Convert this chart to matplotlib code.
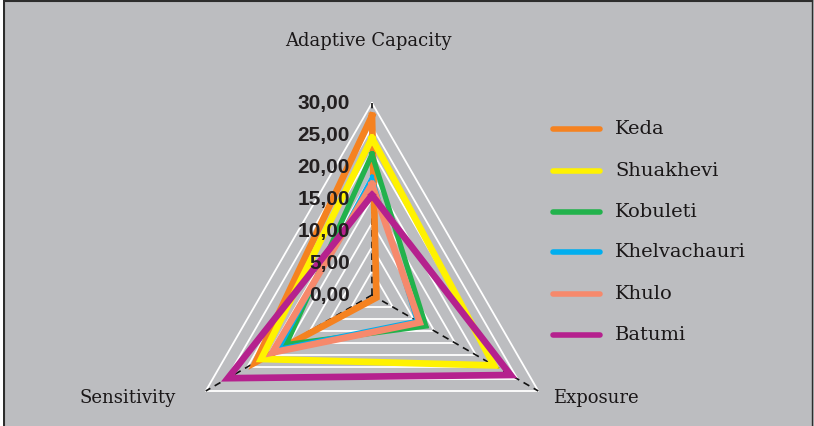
import numpy as np
import matplotlib
matplotlib.use("Agg")
import matplotlib.pyplot as plt
from matplotlib.lines import Line2D

# Vulnerability components (clockwise from top)
categories = ["Adaptive Capacity", "Exposure", "Sensitivity"]
districts = ["Keda", "Shuakhevi", "Kobuleti", "Khelvachauri", "Khulo", "Batumi"]
keda = [28.0, 0.8, 21.0]
shuakhevi = [24.5, 22.0, 20.0]
kobuleti = [22.0, 9.7, 15.5]
khelvachauri = [18.5, 8.0, 16.7]
khulo = [17.3, 8.6, 18.0]
batumi = [15.6, 25.0, 26.0]
tick_values = [0, 5, 10, 15, 20, 25, 30]
tick_labels = ["0,00", "5,00", "10,00", "15,00", "20,00", "25,00", "30,00"]

series = [keda, shuakhevi, kobuleti, khelvachauri, khulo, batumi]
colors = ["#f58220", "#fff200", "#22b24c", "#00aeef", "#f6896c", "#b5218e"]
widths = [4.8, 4.8, 3.8, 2.6, 4.8, 4.8]

W, H = 814, 426
BG = "#bcbdc0"
fig = plt.figure(figsize=(W / 100, H / 100), dpi=100)
fig.patch.set_facecolor(BG)

# polar axes: centre at (372, 295) px, radius 192 px
cx, cy, R = 372, 295, 192
ax = fig.add_axes([(cx - R) / W, (H - cy - R) / H, 2 * R / W, 2 * R / H],
                  projection="polar")
ax.set_theta_offset(np.pi / 2)
ax.set_theta_direction(-1)
ax.set_ylim(0, 30)
ax.patch.set_visible(False)
ax.spines["polar"].set_visible(False)
ax.grid(False)
ax.set_xticks([])
ax.set_yticks([])

angles = np.linspace(0, 2 * np.pi, len(categories), endpoint=False)
closed = np.append(angles, angles[0])

# triangular grid
for lvl in np.linspace(30 / 8, 30, 8):
    ax.plot(closed, [lvl] * (len(categories) + 1), color="white", lw=1.3,
            zorder=1, clip_on=False)
# dashed spokes
for a in angles:
    ax.plot([a, a], [0, 30], color="#111111", lw=1.2, ls=(0, (4, 3)),
            zorder=2, clip_on=False)

for vals, col, lw in zip(series, colors, widths):
    ax.plot(closed, vals + vals[:1], color=col, lw=lw, zorder=3,
            solid_joinstyle="miter", clip_on=False)

# radial tick labels along the top spoke
for v, lab in zip(tick_values, tick_labels):
    ax.annotate(lab, xy=(0, v), xytext=(-22, 0), textcoords="offset pixels",
                ha="right", va="center", fontsize=15, fontweight="bold",
                family="Liberation Sans", color="#231f20", annotation_clip=False)

# category labels
serif = "DejaVu Serif"
fig.text(368 / W, 1 - 41 / H, categories[0], ha="center", va="center",
         fontsize=13, family=serif, color="#1a1718")
fig.text(596 / W, 1 - 398 / H, categories[1], ha="center", va="center",
         fontsize=13, family=serif, color="#1a1718")
fig.text(128 / W, 1 - 398 / H, categories[2], ha="center", va="center",
         fontsize=13, family=serif, color="#1a1718")

# legend
leg_y = [129, 171, 212, 252, 294, 335]
for name, col, y in zip(districts, colors, leg_y):
    fig.add_artist(Line2D([553 / W, 600 / W], [1 - y / H, 1 - y / H],
                          color=col, lw=4, solid_capstyle="round"))
    fig.text(615 / W, 1 - y / H, name, ha="left", va="center",
             fontsize=14, family=serif, color="#1a1718")

# frame
fig.patches.append(plt.Rectangle((0, 0), 3 / W, 1, transform=fig.transFigure,
                                 facecolor="white", edgecolor="none", zorder=5))
fig.add_artist(Line2D([3.5 / W, 3.5 / W], [0, 1], color="#2d2d2d", lw=1.5))
fig.add_artist(Line2D([3 / W, 812 / W], [1 - 1 / H, 1 - 1 / H], color="#2d2d2d", lw=1.5))
fig.add_artist(Line2D([811.5 / W, 811.5 / W], [0, 1], color="#2d2d2d", lw=1.0))

fig.savefig("out.png", dpi=100, facecolor=BG)
